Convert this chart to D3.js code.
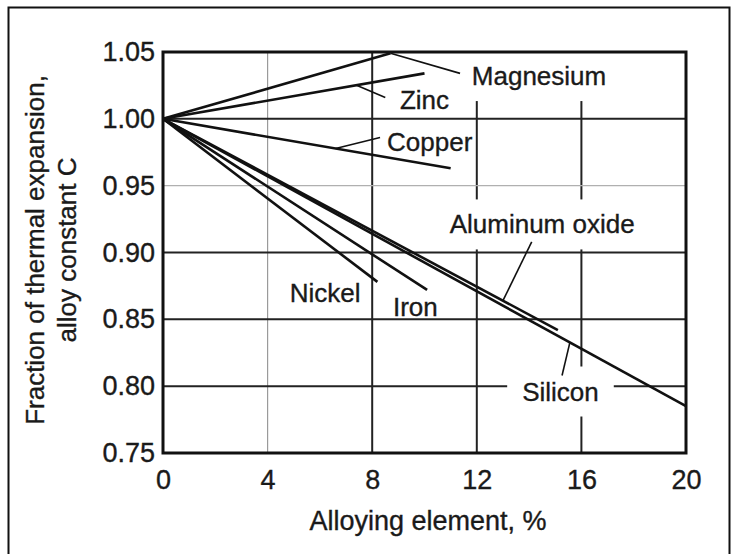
<!DOCTYPE html>
<html>
<head>
<meta charset="utf-8">
<script src="https://cdn.jsdelivr.net/npm/d3@7"></script>
<style>
  html, body { margin: 0; padding: 0; background: #fff; }
  svg { display: block; }
  text { font-family: "Liberation Sans", Arial, Helvetica, sans-serif; fill: #1a1a1a; stroke: #1a1a1a; stroke-width: 0.35px; }
</style>
</head>
<body>
<svg id="chart" width="738" height="554"></svg>
<script>
// Alloying element content (%) at the end of each straight-line curve
const seriesNames = ["Magnesium", "Zinc", "Copper", "Nickel", "Iron", "Aluminum oxide", "Silicon"];
const startPoint = [0, 1.00];
const endPercent = [8.7, 10.0, 11.0, 8.2, 10.1, 15.1, 20.0];
const endFactor  = [1.049, 1.034, 0.963, 0.878, 0.872, 0.842, 0.785];

// Axis ticks
const xTicks = [0, 4, 8, 12, 16, 20];
const yTicks = [0.75, 0.80, 0.85, 0.90, 0.95, 1.00, 1.05];
const yTickLabels = ["0.75", "0.80", "0.85", "0.90", "0.95", "1.00", "1.05"];
const xTitle = "Alloying element, %";
const yTitleLines = ["Fraction of thermal expansion,", "alloy constant C"];

// Curve labels: anchor position in data units, leader target along the curve
const labelText   = ["Magnesium", "Zinc", "Copper", "Aluminum oxide", "Silicon", "Nickel", "Iron"];
const labelX      = [14.38, 10.0, 10.2, 14.5, 15.2, 6.2, 9.65];
const labelY      = [1.032, 1.014, 0.983, 0.921, 0.796, 0.870, 0.859];
const leaderFromX = [11.36, 8.5, 8.3, 14.1, 15.26, null, null];
const leaderFromY = [1.034, 1.016, 0.986, 0.908, 0.808, null, null];
const leaderToSeries = ["Magnesium", "Zinc", "Copper", "Aluminum oxide", "Silicon", null, null];
const leaderToX   = [8.7, 7.4, 6.6, 13.0, 15.56, null, null];
const knockout    = [true, false, false, true, true, false, false];

const svg = d3.select("#chart");
const plot = { left: 163, right: 686, top: 52, bottom: 453 };

const x = d3.scaleLinear().domain([0, 20]).range([plot.left, plot.right]);
const y = d3.scaleLinear().domain([0.75, 1.05]).range([plot.bottom, plot.top]);

// Outer frame
svg.append("rect")
  .attr("x", 8.5).attr("y", 7.5)
  .attr("width", 721).attr("height", 560)
  .attr("fill", "none").attr("stroke", "#111").attr("stroke-width", 2);

const gGrid = svg.append("g");
// Vertical grid lines
gGrid.selectAll("line.v")
  .data(xTicks.filter(d => d > 0 && d < 20))
  .join("line")
  .attr("x1", d => x(d)).attr("x2", d => x(d))
  .attr("y1", y(1.05)).attr("y2", y(0.75))
  .attr("stroke", d => d === 4 ? "#9a9a9a" : "#222")
  .attr("stroke-width", d => d === 4 ? 1.2 : 2);
// Horizontal grid lines
gGrid.selectAll("line.h")
  .data(yTicks.filter(d => d > 0.75 && d < 1.05))
  .join("line")
  .attr("x1", x(0)).attr("x2", x(20))
  .attr("y1", d => y(d)).attr("y2", d => y(d))
  .attr("stroke", d => Math.abs(d - 0.95) < 1e-6 ? "#b0b0b0" : "#222")
  .attr("stroke-width", d => Math.abs(d - 0.95) < 1e-6 ? 1.2 : 2);

// Curves
const series = seriesNames.map((name, i) => ({
  name,
  points: [startPoint, [endPercent[i], endFactor[i]]]
}));
const line = d3.line().x(d => x(d[0])).y(d => y(d[1]));
const valueAt = (name, px) => {
  const s = series.find(s => s.name === name);
  const [a, b] = s.points;
  return a[1] + (b[1] - a[1]) * (px - a[0]) / (b[0] - a[0]);
};

// Labels (with white knock-out behind some of them)
const labels = labelText.map((t, i) => ({
  text: t, x: labelX[i], y: labelY[i],
  fx: leaderFromX[i], fy: leaderFromY[i],
  ts: leaderToSeries[i], tx: leaderToX[i], ko: knockout[i]
}));
const gLab = svg.append("g");
labels.forEach(l => {
  const t = gLab.append("text")
    .attr("x", x(l.x)).attr("y", y(l.y))
    .attr("text-anchor", "middle")
    .attr("dominant-baseline", "central")
    .attr("font-size", 26)
    .text(l.text);
  if (l.ko) {
    const bb = t.node().getBBox();
    gLab.insert("rect", "text")
      .attr("x", bb.x - 15).attr("y", bb.y - 10)
      .attr("width", bb.width + 30).attr("height", bb.height + 20)
      .attr("fill", "#fff").attr("stroke", "none");
  }
});

svg.append("g").selectAll("path")
  .data(series)
  .join("path")
  .attr("d", d => line(d.points))
  .attr("fill", "none")
  .attr("stroke", "#111")
  .attr("stroke-width", 2.6);

// Leader lines
svg.append("g").selectAll("line")
  .data(labels.filter(l => l.ts))
  .join("line")
  .attr("x1", d => x(d.fx)).attr("y1", d => y(d.fy))
  .attr("x2", d => x(d.tx)).attr("y2", d => y(valueAt(d.ts, d.tx)))
  .attr("stroke", "#111").attr("stroke-width", 1.6);

// Plot frame
svg.append("rect")
  .attr("x", plot.left).attr("y", plot.top)
  .attr("width", plot.right - plot.left).attr("height", plot.bottom - plot.top)
  .attr("fill", "none").attr("stroke", "#111").attr("stroke-width", 3);

// Axes tick labels
const xAxis = d3.axisBottom(x).tickValues(xTicks).tickSize(0).tickPadding(17).tickFormat(d3.format("d"));
const gx = svg.append("g").attr("transform", `translate(0,${plot.bottom})`).call(xAxis);
gx.select(".domain").remove();
gx.selectAll("text").attr("font-size", 27).attr("fill", "#1a1a1a")
  .attr("font-family", "'Liberation Sans', Arial, sans-serif");

const yAxis = d3.axisLeft(y).tickValues(yTicks).tickSize(0).tickPadding(8)
  .tickFormat((d, i) => yTickLabels[i]);
const gy = svg.append("g").attr("transform", `translate(${plot.left},0)`).call(yAxis);
gy.select(".domain").remove();
gy.selectAll("text").attr("font-size", 27).attr("fill", "#1a1a1a")
  .attr("font-family", "'Liberation Sans', Arial, sans-serif");

// Axis titles
svg.append("text")
  .attr("x", 428).attr("y", 521)
  .attr("text-anchor", "middle").attr("dominant-baseline", "central")
  .attr("font-size", 27)
  .text(xTitle);

const yt = svg.append("text")
  .attr("transform", "translate(0,250) rotate(-90)")
  .attr("text-anchor", "middle")
  .attr("font-size", 26);
yt.selectAll("tspan").data(yTitleLines).join("tspan")
  .attr("x", 0).attr("y", (d, i) => 44 + i * 32)
  .text(d => d);
</script>
</body>
</html>
